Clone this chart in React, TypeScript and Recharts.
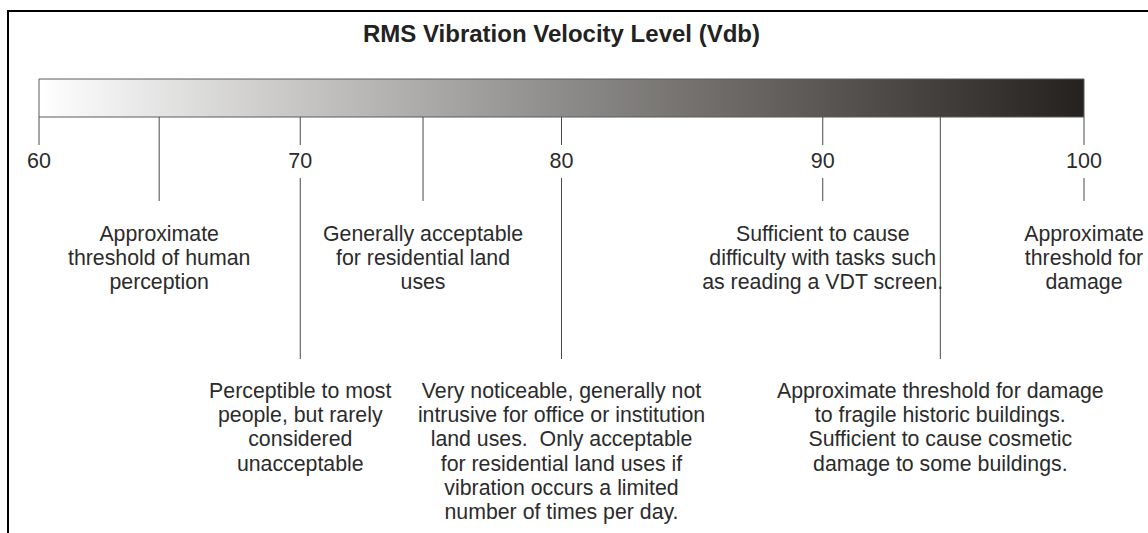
import React from 'react';
import { ComposedChart, XAxis, YAxis, ReferenceArea, ReferenceLine, ReferenceDot } from 'recharts';

// ---- data ----
const titleText = 'RMS Vibration Velocity Level (Vdb)';
const scaleTicks = [60, 70, 80, 90, 100];
const scaleMin = 60;
const scaleMax = 100;
const markerValues = [64.6, 70, 74.7, 80, 90, 94.5, 100];
const markerTexts: string[][] = [
  ['Approximate', 'threshold of human', 'perception'],
  ['Perceptible to most', 'people, but rarely', 'considered', 'unacceptable'],
  ['Generally acceptable', 'for residential land', 'uses'],
  [
    'Very noticeable, generally not',
    'intrusive for office or institution',
    'land uses.  Only acceptable',
    'for residential land uses if',
    'vibration occurs a limited',
    'number of times per day.',
  ],
  ['Sufficient to cause', 'difficulty with tasks such', 'as reading a VDT screen.'],
  ['Approximate threshold for damage', 'to fragile historic buildings.', 'Sufficient to cause cosmetic', 'damage to some buildings.'],
  ['Approximate', 'threshold for', 'damage'],
];
// which row each marker's note sits in (0 = upper, 1 = lower)
const markerRows = [0, 1, 0, 1, 0, 1, 0];

// ---- layout (pixel space, y axis maps 1:1 to pixels) ----
const W = 1148;
const H = 533;
const BAR_TOP = 79;
const BAR_BOTTOM = 117;
const TICK_STUB_END = 145;
const TICK_LABEL_Y = 167.5;
const TICK_RESUME = 178;
const ROW_LINE_END = [201, 359];
const ROW_TEXT_Y = [240.5, 398];
const LINE_H = 24.2;
const FONT = '"Liberation Sans", Arial, Helvetica, sans-serif';
const TEXT_COLOR = '#2b2b2b';
const LINE_COLOR = '#4a4a4a';

const tickData = scaleTicks.map((v) => ({ x: v, y: 0 }));

function MultiLine(props: any) {
  const { viewBox, lines, fontSize, fontWeight } = props;
  if (!viewBox) return null;
  const cx = viewBox.x + viewBox.width / 2;
  const cy = viewBox.y + viewBox.height / 2;
  return (
    <text
      x={cx}
      y={cy}
      textAnchor="middle"
      fontFamily={FONT}
      fontSize={fontSize}
      fontWeight={fontWeight}
      fill={TEXT_COLOR}
      style={{ whiteSpace: 'pre' }}
    >
      {lines.map((l: string, i: number) => (
        <tspan key={i} x={cx} y={cy + i * LINE_H}>
          {l}
        </tspan>
      ))}
    </text>
  );
}

export default function App() {
  return (
    <div
      style={{
        position: 'absolute',
        left: 0,
        top: 0,
        width: W,
        height: H,
        overflow: 'hidden',
        background: '#ffffff',
      }}
    >
      <div
        style={{
          position: 'absolute',
          left: 7,
          top: 10,
          width: 1400,
          height: 800,
          borderLeft: '2px solid #000',
          borderTop: '2px solid #000',
        }}
      />
      <div
        style={{
          position: 'absolute',
          left: 0,
          top: 21.5,
          width: 1123,
          textAlign: 'center',
          fontFamily: FONT,
          fontWeight: 'bold',
          fontSize: 24,
          lineHeight: '24px',
          color: '#222',
          whiteSpace: 'nowrap',
        }}
      >
        {titleText}
      </div>
      <div style={{ position: 'absolute', left: 0, top: 0 }}>
        <ComposedChart
          width={W}
          height={H}
          data={tickData}
          margin={{ top: 0, right: 64, left: 39, bottom: 0 }}
        >
          <defs>
            <linearGradient id="vdbGrad" x1="0" y1="0" x2="1" y2="0">
              <stop offset="0%" stopColor="#ffffff" />
              <stop offset="50%" stopColor="#8e8c8a" />
              <stop offset="100%" stopColor="#25211e" />
            </linearGradient>
          </defs>
          <XAxis type="number" dataKey="x" domain={[scaleMin, scaleMax]} hide allowDataOverflow />
          <YAxis type="number" domain={[0, H]} reversed hide allowDataOverflow />
          <ReferenceArea
            x1={scaleMin}
            x2={scaleMax}
            y1={BAR_TOP}
            y2={BAR_BOTTOM}
            fill="url(#vdbGrad)"
            fillOpacity={1}
            stroke="#5a5a5a"
            strokeWidth={1}
            ifOverflow="visible"
          />
          {scaleTicks.map((v) => (
            <ReferenceLine
              key={'stub' + v}
              segment={[
                { x: v, y: BAR_BOTTOM },
                { x: v, y: TICK_STUB_END },
              ]}
              stroke={LINE_COLOR}
              strokeWidth={1}
              ifOverflow="visible"
            />
          ))}
          {scaleTicks.map((v) => (
            <ReferenceDot
              key={'tl' + v}
              x={v}
              y={TICK_LABEL_Y}
              r={1}
              fill="none"
              stroke="none"
              ifOverflow="visible"
              label={<MultiLine lines={[String(v)]} fontSize={21.5} />}
            />
          ))}
          {markerValues.map((v, i) => {
            const isMajor = scaleTicks.includes(v);
            const row = markerRows[i];
            return (
              <ReferenceLine
                key={'ml' + v}
                segment={[
                  { x: v, y: isMajor ? TICK_RESUME : BAR_BOTTOM },
                  { x: v, y: ROW_LINE_END[row] },
                ]}
                stroke={LINE_COLOR}
                strokeWidth={1}
                ifOverflow="visible"
              />
            );
          })}
          {markerValues.map((v, i) => (
            <ReferenceDot
              key={'mt' + v}
              x={v}
              y={ROW_TEXT_Y[markerRows[i]]}
              r={1}
              fill="none"
              stroke="none"
              ifOverflow="visible"
              label={<MultiLine lines={markerTexts[i]} fontSize={21.3} />}
            />
          ))}
        </ComposedChart>
      </div>
    </div>
  );
}
